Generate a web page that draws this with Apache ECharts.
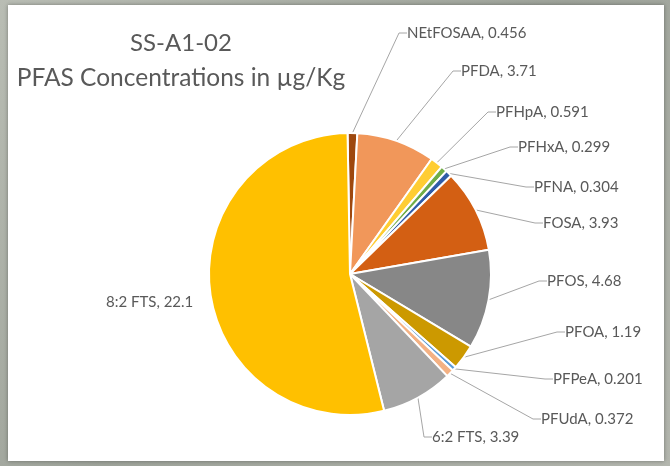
<!DOCTYPE html>
<html>
<head>
<meta charset="utf-8">
<script src="https://cdn.jsdelivr.net/npm/echarts@6/dist/echarts.min.js"></script>
<style>
  html, body { margin: 0; padding: 0; }
  body { width: 670px; height: 466px; background: linear-gradient(135deg, #b9bdb4 0%, #9ea39a 50%, #b3b6ae 100%); }
  #chart { position: absolute; left: 0; top: 0; width: 670px; height: 466px; }
</style>
</head>
<body>
<div id="chart"></div>
<script>
// 数据
const titleLines = ['SS-A1-02', 'PFAS Concentrations in µg/Kg'];
const compounds = ['NEtFOSAA', 'PFDA', 'PFHpA', 'PFHxA', 'PFNA', 'FOSA', 'PFOS', 'PFOA', 'PFPeA', 'PFUdA', '6:2 FTS', '8:2 FTS'];
const concentrations = [0.456, 3.71, 0.591, 0.299, 0.304, 3.93, 4.68, 1.19, 0.201, 0.372, 3.39, 22.1];
const valueLabels = ['0.456', '3.71', '0.591', '0.299', '0.304', '3.93', '4.68', '1.19', '0.201', '0.372', '3.39', '22.1'];

// 配色
const sliceColors = ['#9e480e', '#f1975a', '#ffcd33', '#70ad47', '#2f5ca8', '#d35f13', '#878787', '#cc9900', '#5b9bd5', '#f4b183', '#a5a5a5', '#ffc000'];

// 标签位置（左边缘, 垂直中心）
const labelPos = [
    [407, 33], [461, 71], [496, 112], [518, 147], [534, 187], [543, 223],
    [547, 281], [565, 332], [553, 379], [541, 419], [432, 437], [106, 302]
];

const chart = echarts.init(document.getElementById('chart'));

const pieData = compounds.map((name, i) => ({
    name,
    value: concentrations[i],
    itemStyle: { color: sliceColors[i] },
    labelLine: { show: name !== '8:2 FTS' }
}));

const option = {
    animation: false,
    graphic: [
        {
            type: 'rect',
            shape: { x: 8, y: 5, width: 656, height: 456 },
            style: { fill: '#ffffff', shadowBlur: 4, shadowColor: 'rgba(0,0,0,0.35)' },
            z: -10
        },
        {
            type: 'text',
            style: {
                x: 181, y: 43,
                text: titleLines[0],
                align: 'center', verticalAlign: 'middle',
                fill: '#595959',
                font: '24px Lato'
            }
        },
        {
            type: 'text',
            style: {
                x: 181, y: 78,
                text: titleLines[1],
                align: 'center', verticalAlign: 'middle',
                fill: '#595959',
                font: '24.5px Lato'
            }
        }
    ],
    series: [{
        type: 'pie',
        center: [350, 274],
        radius: 141,
        startAngle: 91,
        clockwise: true,
        data: pieData,
        itemStyle: {
            borderColor: '#ffffff',
            borderWidth: 2
        },
        label: {
            show: true,
            position: 'outside',
            formatter: p => p.name + ', ' + valueLabels[p.dataIndex],
            color: '#595959',
            fontFamily: 'Lato',
            fontSize: 15
        },
        labelLine: {
            show: true,
            length: 10,
            length2: 8,
            lineStyle: { color: '#a6a6a6', width: 1 }
        },
        labelLayout: function (params) {
            const pos = labelPos[params.dataIndex];
            return {
                x: pos[0],
                y: pos[1],
                align: 'left',
                verticalAlign: 'middle'
            };
        },
        emphasis: { disabled: true }
    }]
};

chart.setOption(option);
</script>
</body>
</html>
